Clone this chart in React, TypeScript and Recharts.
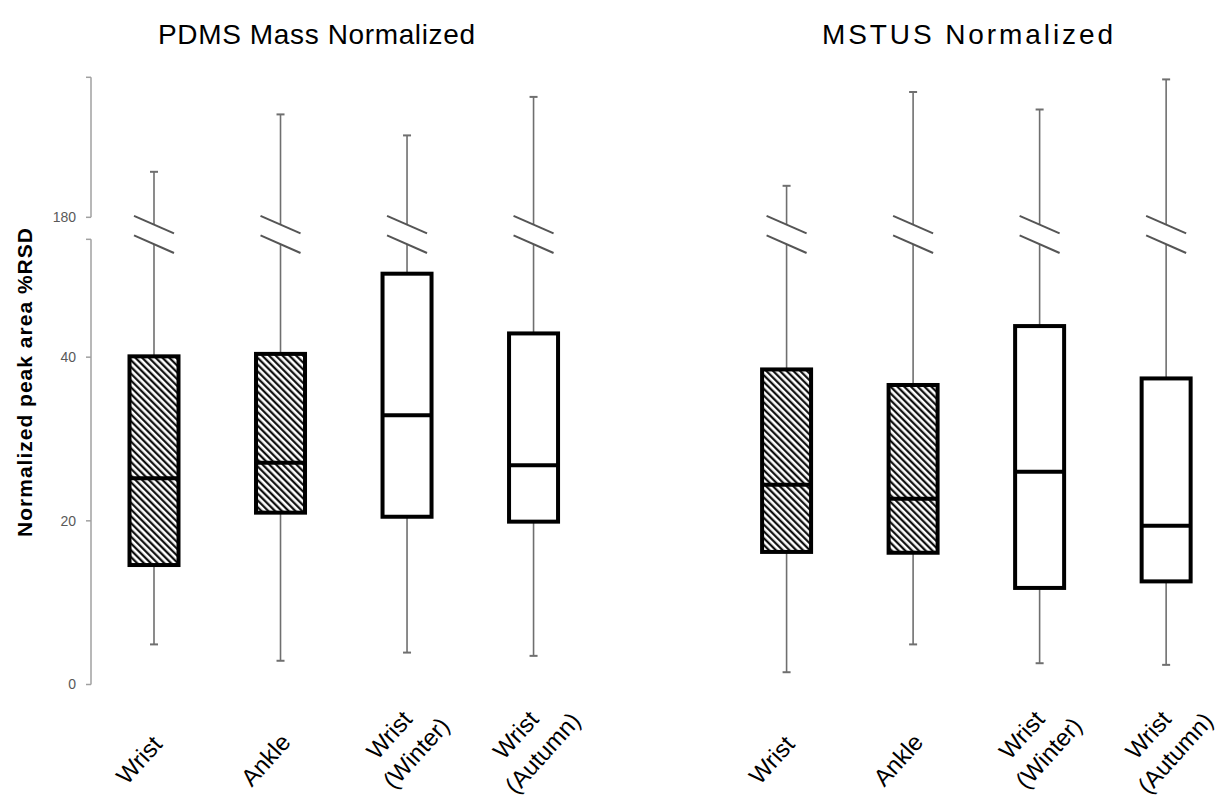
import React from 'react';
import { ComposedChart, Bar, XAxis, YAxis, ReferenceLine } from 'recharts';

// ---------- data ----------
const groupTitles = ['PDMS Mass Normalized', 'MSTUS Normalized'];
const categoryLabels = [['Wrist'], ['Ankle'], ['Wrist', '(Winter)'], ['Wrist', '(Autumn)']];
const hatched = [true, true, false, false];

const pdmsMin = [4.9, 2.9, 3.9, 3.5];
const pdmsQ1 = [14.6, 21.0, 20.5, 19.9];
const pdmsMedian = [25.2, 27.1, 32.9, 26.8];
const pdmsQ3 = [40.1, 40.4, 50.2, 42.9];
const pdmsMax = [186.5, 194.7, 191.7, 197.2];

const mstusMin = [1.5, 4.9, 2.6, 2.4];
const mstusQ1 = [16.2, 16.1, 11.8, 12.6];
const mstusMedian = [24.4, 22.7, 26.0, 19.4];
const mstusQ3 = [38.5, 36.6, 43.8, 37.4];
const mstusMax = [184.5, 197.9, 195.4, 199.7];

const yTickValues = [0, 20, 40, 180];
const yAxisSegments = [[0, 54.4], [180, 200]];

// ---------- broken-axis transform (value -> display units) ----------
const LOWER_TOP = 54.4;
const D180 = 57.09;
const UPPER_SCALE = 0.8555;
const BREAK_HI = 56.2;
const BREAK_LO = 53.8;
const toDisplay = (v: number) => (v <= LOWER_TOP ? v : D180 + (v - 180) * UPPER_SCALE);

const GROUP_GAP = 5;
const rows: any[] = [];
[
  [pdmsMin, pdmsQ1, pdmsMedian, pdmsQ3, pdmsMax],
  [mstusMin, mstusQ1, mstusMedian, mstusQ3, mstusMax],
].forEach((g, gi) => {
  for (let i = 0; i < 4; i++) {
    rows.push({
      pos: gi * GROUP_GAP + i,
      cat: i,
      min: g[0][i],
      q1: g[1][i],
      med: g[2][i],
      q3: g[3][i],
      max: g[4][i],
      hatched: hatched[i],
    });
  }
});
const xTicks = rows.map((r) => r.pos);
const axisTickDisplay = [...yTickValues, ...yAxisSegments.flat()]
  .map(toDisplay)
  .filter((v, i, a) => a.indexOf(v) === i)
  .sort((a, b) => a - b);

const FONT = '"Liberation Sans", Arial, sans-serif';

const BoxShape = (props: any) => {
  const { x, y, width, height, payload } = props;
  if (!payload) return null;
  const dMin = toDisplay(payload.min);
  const dMax = toDisplay(payload.max);
  const top = Math.min(y, y + height);
  const bot = Math.max(y, y + height);
  const py = (d: number) => top + ((bot - top) * (dMax - d)) / (dMax - dMin);
  const cx = x + width / 2;
  const bw = 49;
  const yMax = py(dMax);
  const yMin = py(dMin);
  const yQ1 = py(toDisplay(payload.q1));
  const yQ3 = py(toDisplay(payload.q3));
  const yMed = py(toDisplay(payload.med));
  const yHi = py(BREAK_HI);
  const yLo = py(BREAK_LO);
  const wc = '#6f6f6f';
  return (
    <g>
      <defs>
        <pattern id="hatch" patternUnits="userSpaceOnUse" width="4.8" height="4.8" patternTransform="rotate(-45)">
          <rect width="4.8" height="4.8" fill="#fff" />
          <line x1="1.2" y1="0" x2="1.2" y2="4.8" stroke="#000" strokeWidth="2.1" />
        </pattern>
      </defs>
      <line x1={cx} y1={yMax} x2={cx} y2={yHi} stroke={wc} strokeWidth={1.6} />
      <line x1={cx - 4} y1={yMax} x2={cx + 4} y2={yMax} stroke={wc} strokeWidth={2} />
      <line x1={cx} y1={yLo} x2={cx} y2={yQ3} stroke={wc} strokeWidth={1.6} />
      <line x1={cx - 20} y1={yHi - 8.8} x2={cx + 20} y2={yHi + 8.8} stroke="#555" strokeWidth={2} />
      <line x1={cx - 20} y1={yLo - 8.8} x2={cx + 20} y2={yLo + 8.8} stroke="#555" strokeWidth={2} />
      <line x1={cx} y1={yQ1} x2={cx} y2={yMin} stroke={wc} strokeWidth={1.6} />
      <line x1={cx - 4} y1={yMin} x2={cx + 4} y2={yMin} stroke={wc} strokeWidth={2} />
      <rect
        x={cx - bw / 2}
        y={yQ3}
        width={bw}
        height={yQ1 - yQ3}
        fill={payload.hatched ? 'url(#hatch)' : '#fff'}
        stroke="#000"
        strokeWidth={4}
      />
      <line x1={cx - bw / 2} y1={yMed} x2={cx + bw / 2} y2={yMed} stroke="#000" strokeWidth={4} />
    </g>
  );
};

const CatTick = (props: any) => {
  const { x, y, payload } = props;
  const pos = payload.value;
  const lines = categoryLabels[pos % GROUP_GAP];
  const offs =
    lines.length === 1
      ? [[-9, 81]]
      : [
          [-12, 56],
          [15, 74],
        ];
  return (
    <g>
      {lines.map((l, i) => (
        <text
          key={i}
          transform={`translate(${x + offs[i][0]},${y + offs[i][1]}) rotate(-48)`}
          textAnchor="middle"
          fontSize={24}
          fontFamily={FONT}
          fill="#000"
        >
          {l}
        </text>
      ))}
    </g>
  );
};

const yTickFormatter = (d: number) => {
  const v = yTickValues.find((t) => Math.abs(toDisplay(t) - d) < 1e-6);
  return v === undefined ? '' : String(v);
};

export default function App() {
  return (
    <div style={{ position: 'absolute', left: 0, top: 0, width: 1227, height: 800, background: '#fff' }}>
      <ComposedChart
        width={1227}
        height={800}
        data={rows}
        margin={{ top: 77.3, right: 10, bottom: 0, left: 0 }}
      >
        <XAxis
          dataKey="pos"
          type="number"
          domain={[-0.5, 8.4]}
          ticks={xTicks}
          interval={0}
          axisLine={false}
          tickLine={false}
          tickSize={0}
          tickMargin={0}
          height={115.5}
          tick={<CatTick />}
        />
        <YAxis
          type="number"
          domain={[0, toDisplay(200)]}
          ticks={axisTickDisplay}
          interval={0}
          width={91}
          axisLine={false}
          tickLine={{ stroke: '#a0a0a0', strokeWidth: 1.5 }}
          tickSize={5}
          tickMargin={10}
          tickFormatter={yTickFormatter}
          tick={{ fontSize: 14, fill: '#595959', fontFamily: FONT }}
        />
        {yAxisSegments.map((s, i) => (
          <ReferenceLine
            key={i}
            segment={[
              { x: -0.5, y: toDisplay(s[0]) },
              { x: -0.5, y: toDisplay(s[1]) },
            ]}
            stroke="#a0a0a0"
            strokeWidth={1.5}
            ifOverflow="visible"
          />
        ))}
        <Bar
          dataKey={(r: any) => [toDisplay(r.min), toDisplay(r.max)]}
          barSize={50}
          shape={(p: any) => <BoxShape {...p} />}
          isAnimationActive={false}
        />
      </ComposedChart>
      <svg
        width={1227}
        height={800}
        style={{ position: 'absolute', left: 0, top: 0, pointerEvents: 'none' }}
      >
        <text x={316.5} y={44} textAnchor="middle" fontSize={28} fontFamily={FONT} fill="#000" textLength={317} lengthAdjust="spacing">
          {groupTitles[0]}
        </text>
        <text x={967.5} y={44} textAnchor="middle" fontSize={28} fontFamily={FONT} fill="#000" textLength={291} lengthAdjust="spacing">
          {groupTitles[1]}
        </text>
        <text
          transform="translate(32,382.5) rotate(-90)"
          textAnchor="middle"
          fontSize={21}
          fontWeight="bold"
          fontFamily={FONT}
          fill="#000"
          textLength={309}
          lengthAdjust="spacing"
        >
          Normalized peak area %RSD
        </text>
      </svg>
    </div>
  );
}
